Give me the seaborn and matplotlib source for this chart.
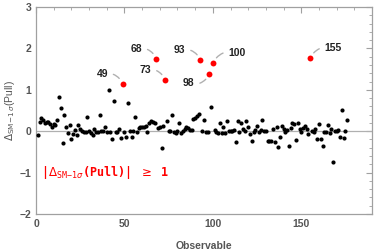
import numpy as np
import pandas as pd
import matplotlib
matplotlib.use("Agg")
import matplotlib.pyplot as plt
import seaborn as sns
from matplotlib.ticker import MultipleLocator

pull = [
    -0.10, 0.22, 0.33, 0.27, 0.20, 0.22, 0.23, 0.18, 0.10, 0.18,
    0.15, 0.28, 0.82, 0.57, -0.29, 0.40, 0.10, -0.04, 0.16, -0.19,
    -0.07, 0.02, -0.10, 0.16, 0.06, 0.00, -0.02, -0.01, 0.34, 0.01,
    -0.04, -0.08, 0.05, -0.03, -0.02, 0.40, 0.00, 0.00, 0.10, -0.02,
    0.99, -0.03, -0.18, 0.72, -0.01, -0.03, 0.06, -0.17, 1.15, -0.02,
    -0.14, 0.69, 0.01, -0.13, 0.01, 0.34, -0.03, 0.07, 0.09, 0.10,
    0.11, 0.13, -0.03, 0.20, 0.24, 0.22, 0.21, 1.75, 0.08, 0.11,
    -0.40, 0.12, 1.24, 0.24, 0.00, 0.00, 0.40, -0.01, -0.04, 0.00,
    0.20, -0.04, 0.01, 0.05, 0.10, 0.08, 0.03, 0.04, 0.29, 0.33,
    0.37, 0.42, 1.72, 0.00, 0.26, -0.01, -0.01, 1.38, 0.59, 1.65,
    0.02, -0.01, -0.04, 0.19, -0.04, 0.09, -0.05, 0.24, 0.00, 0.01,
    0.00, 0.02, -0.27, 0.24, -0.02, 0.20, 0.05, 0.00, 0.24, 0.09,
    -0.07, -0.23, -0.01, 0.02, 0.13, -0.03, 0.04, 0.28, 0.00, 0.00,
    -0.24, -0.24, -0.23, 0.06, -0.25, 0.10, -0.38, -0.13, 0.12, 0.05,
    -0.01, 0.03, -0.35, 0.07, 0.20, 0.18, -0.21, 0.21, 0.06, -0.03,
    0.07, 0.12, 0.05, -0.06, 1.77, 0.00, -0.03, 0.06, -0.20, 0.17,
    -0.20, -0.36, -0.02, -0.03, 0.15, -0.05, 0.06, -0.74, 0.00, 0.01,
    0.03, -0.13, 0.52, -0.17, 0.00, 0.26,
]
observable = list(range(1, len(pull) + 1))

label_obs = [49, 68, 73, 93, 98, 100, 155]
# label text positions (data coords) and curve bends
label_pos = {49: (37.5, 1.38), 68: (56.8, 1.99), 73: (62.0, 1.48),
             93: (81.3, 1.96), 98: (86.4, 1.16), 100: (113.6, 1.89),
             155: (168.0, 2.00)}
label_rad = {49: -0.4, 68: -0.4, 73: -0.4, 93: -0.4, 98: 0.4,
             100: 0.4, 155: 0.4}

df = pd.DataFrame({"Observable": observable, "Pull": pull})
df["high"] = df["Pull"].abs() >= 1

sns.set_style("white")
plt.rcParams["font.family"] = ["Liberation Sans", "DejaVu Sans"]

fig = plt.figure(figsize=(3.74, 2.52), dpi=100)
ax = fig.add_axes([0.0963, 0.1508, 0.8984, 0.8212])

frame_col = "#a0a0a0"
txt_col = "#555555"

ax.axhline(0, color="#b0b0b0", lw=0.9, zorder=1)

sns.scatterplot(data=df[~df["high"]], x="Observable", y="Pull", color="black",
                s=9, linewidth=0, ax=ax, zorder=3)
sns.scatterplot(data=df[df["high"]], x="Observable", y="Pull", color="#ff0000",
                s=18, linewidth=0, ax=ax, zorder=4)

for ob in label_obs:
    v = pull[ob - 1]
    tx, ty = label_pos[ob]
    ax.annotate(str(ob), xy=(ob, v), xytext=(tx, ty), ha="center", va="center",
                fontsize=7.5, fontweight="bold", color="#222222",
                arrowprops=dict(arrowstyle="-", color="#b0b0b0", lw=1.0,
                                shrinkA=1.5, shrinkB=4.5,
                                connectionstyle=f"arc3,rad={label_rad[ob]}"))

ax.text(3, -1.0, r"|$\Delta_{\mathtt{SM\!-\!1}\sigma}$(Pull)| $\geq$ 1",
        color="#ff0000", fontsize=8.5, fontweight="bold",
        family=["DejaVu Sans Mono"], ha="left", va="center")

ax.set_xlim(0, 190)
ax.set_ylim(-2, 3)
ax.xaxis.set_major_locator(MultipleLocator(50))
ax.xaxis.set_minor_locator(MultipleLocator(10))
ax.yaxis.set_major_locator(MultipleLocator(1))
ax.yaxis.set_minor_locator(MultipleLocator(0.2))
ax.tick_params(which="both", direction="in", top=True, right=True,
               color=frame_col, labelcolor=txt_col, labelsize=7.5)
ax.tick_params(which="major", length=4, width=0.8)
ax.tick_params(which="minor", length=2, width=0.6)
ax.set_yticks([-2, -1, 0, 1, 2, 3])
ax.set_yticklabels(["\u22122", "\u22121", "0", "1", "2", "3"])
for lab in ax.get_xticklabels() + ax.get_yticklabels():
    lab.set_fontweight("bold")
for sp in ax.spines.values():
    sp.set_color(frame_col)
    sp.set_linewidth(0.9)

ax.set_xlabel("Observable", color=txt_col, fontsize=7.5, fontweight="bold",
              labelpad=9)
ax.set_ylabel(r"$\Delta_{\mathrm{SM\!-\!1}\,\sigma}$(Pull)", color=txt_col,
              fontsize=7.5, labelpad=2)

fig.savefig("out.png", dpi=100)
